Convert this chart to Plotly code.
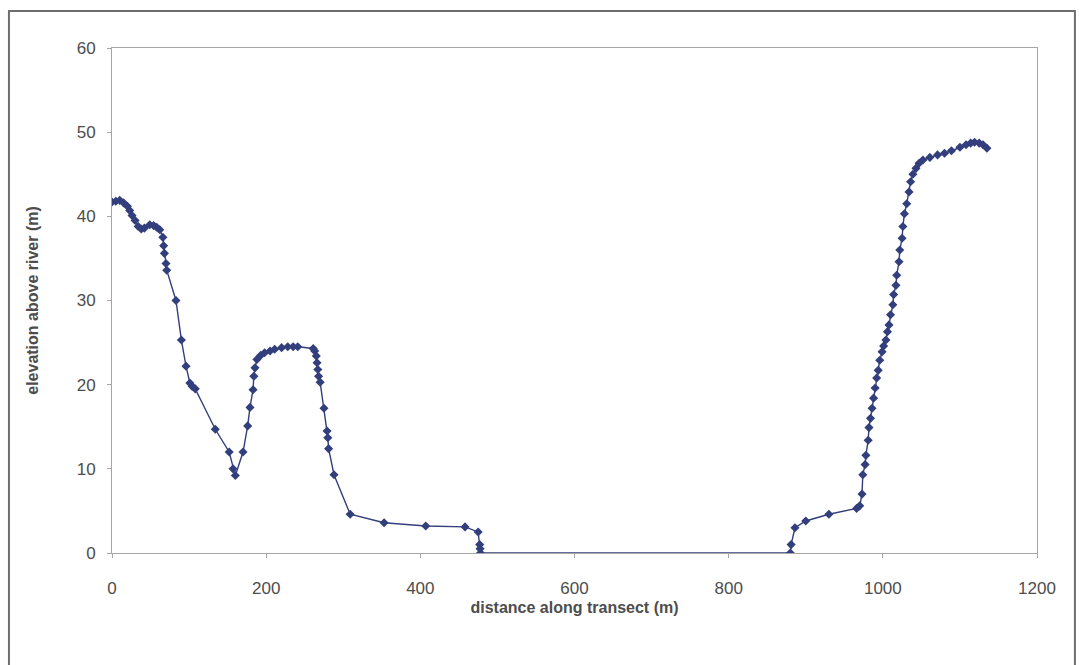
import plotly.graph_objects as go

# Transect survey: distance along transect (m) and elevation above river (m)
distance = [
    0, 5, 10, 15, 20, 23, 26, 30, 34, 38, 42, 49, 54, 58, 62, 66, 67, 68, 70, 71,
    83, 90, 96, 101, 104, 108, 134, 152, 157, 160, 170, 176, 179, 183, 184, 185.5,
    188, 193, 198, 205, 211, 220, 228, 235, 241, 261, 263, 265, 266, 267, 268, 270,
    275, 279, 280, 281, 288, 309, 353, 407, 458, 475, 477, 477.5, 478,
    880, 881, 886, 900, 930, 966, 970, 973, 974, 977, 978, 981, 982, 984, 986, 988,
    990, 992, 994, 996, 999, 1001, 1004, 1006, 1008, 1010, 1013, 1014, 1017, 1018,
    1021, 1022, 1025, 1026, 1028, 1031, 1034, 1036, 1039, 1043, 1047, 1052, 1061,
    1071, 1080, 1089, 1100, 1108, 1114, 1119, 1125, 1130, 1135,
]
elevation = [
    41.7, 41.8, 41.9, 41.6, 41.2, 40.7, 40.1, 39.5, 38.8, 38.5, 38.6, 39.0, 38.9, 38.7, 38.4, 37.5, 36.5, 35.6, 34.4, 33.6,
    30.0, 25.3, 22.2, 20.2, 19.8, 19.5, 14.7, 12.0, 10.0, 9.2, 12.0, 15.1, 17.3, 19.4, 21.0, 22.0,
    23.0, 23.5, 23.8, 24.0, 24.2, 24.4, 24.5, 24.5, 24.5, 24.3, 24.0, 23.4, 22.6, 21.8, 21.0, 20.3,
    17.2, 14.5, 13.7, 12.4, 9.3, 4.6, 3.6, 3.2, 3.1, 2.5, 1.0, 0.5, 0.0,
    0.0, 1.0, 3.0, 3.8, 4.6, 5.3, 5.6, 7.0, 9.3, 10.5, 11.6, 13.4, 14.9, 16.0, 17.2, 18.4,
    19.6, 20.8, 21.7, 22.9, 23.9, 24.6, 25.3, 26.3, 27.1, 28.3, 29.5, 30.7, 31.8, 33.0,
    34.6, 36.0, 37.4, 38.8, 40.3, 41.5, 42.9, 44.1, 45.0, 45.7, 46.3, 46.7, 47.0,
    47.3, 47.5, 47.8, 48.2, 48.5, 48.7, 48.8, 48.7, 48.5, 48.1,
]

x_ticks = [0, 200, 400, 600, 800, 1000, 1200]
y_ticks = [0, 10, 20, 30, 40, 50, 60]

navy = "#333f7c"
axis_grey = "#a6a6a6"
text_grey = "#4d4d4d"

fig = go.Figure()
fig.add_trace(go.Scatter(
    x=distance, y=elevation, mode="lines+markers",
    line=dict(color=navy, width=1.4),
    marker=dict(symbol="diamond", size=7, color=navy),
    showlegend=False,
))

fig.update_layout(
    width=1080, height=665,
    margin=dict(l=112, r=43, t=48, b=112),
    paper_bgcolor="white", plot_bgcolor="white",
    font=dict(family="Liberation Sans, Arial, sans-serif", color=text_grey, size=17),
    xaxis=dict(
        range=[0, 1200], tickvals=x_ticks, ticktext=[str(v) for v in x_ticks],
        showgrid=False, zeroline=False, showline=True, linecolor=axis_grey, linewidth=1,
        mirror=True, ticks="outside", ticklen=4, tickcolor=axis_grey,
        ticklabelstandoff=16,
        tickfont=dict(size=17, color=text_grey),
        title=dict(text="<b>distance along transect (m)</b>", standoff=4,
                   font=dict(size=16, color=text_grey)),
    ),
    yaxis=dict(
        range=[0, 60], tickvals=y_ticks, ticktext=[str(v) for v in y_ticks],
        showgrid=False, zeroline=False, showline=True, linecolor=axis_grey, linewidth=1,
        mirror=True, ticks="outside", ticklen=4, tickcolor=axis_grey,
        ticklabelstandoff=8,
        tickfont=dict(size=17, color=text_grey),
        title=dict(text="<b>elevation above river (m)</b>", standoff=34,
                   font=dict(size=16, color=text_grey)),
    ),
    shapes=[dict(
        type="rect", xref="paper", yref="paper",
        x0=-0.1114, x1=1.041, y0=-0.25, y1=1.0733,
        line=dict(color="#6e6e6e", width=2), fillcolor="rgba(0,0,0,0)", layer="below",
    )],
)

fig.write_html("out.html")
